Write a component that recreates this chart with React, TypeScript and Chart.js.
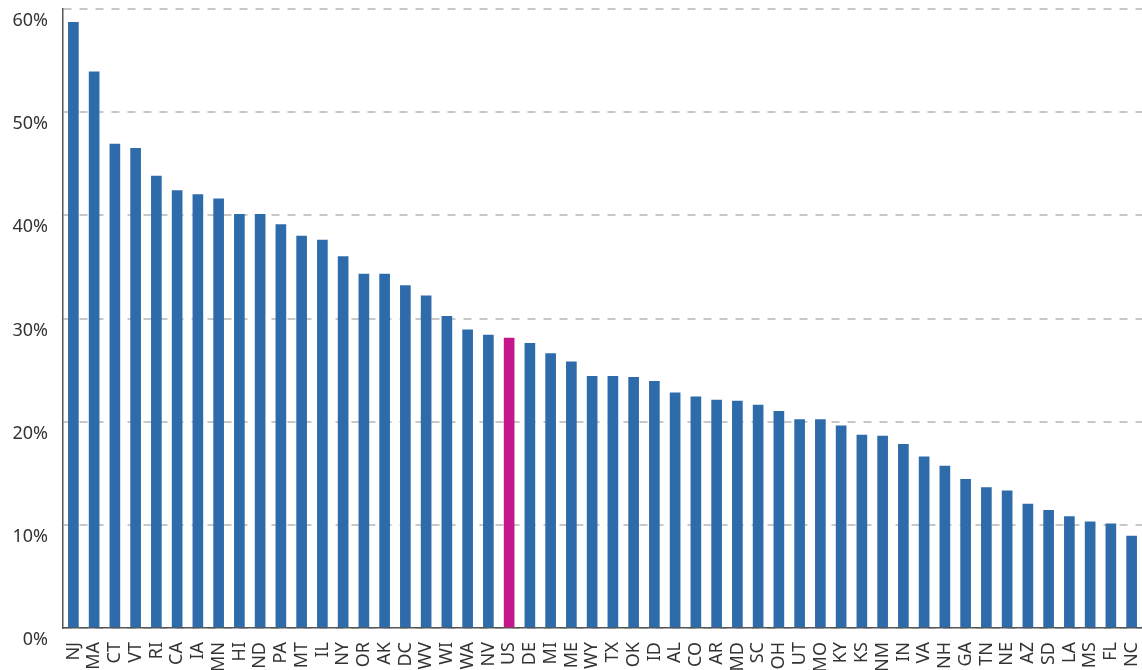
import React, { useEffect, useRef } from "react";
import { Chart, registerables } from "chart.js";

Chart.register(...registerables);

const states = [
  "NJ", "MA", "CT", "VT", "RI", "CA", "IA", "MN", "HI", "ND", "PA", "MT", "IL",
  "NY", "OR", "AK", "DC", "WV", "WI", "WA", "NV", "US", "DE", "MI", "ME", "WY",
  "TX", "OK", "ID", "AL", "CO", "AR", "MD", "SC", "OH", "UT", "MO", "KY", "KS",
  "NM", "IN", "VA", "NH", "GA", "TN", "NE", "AZ", "SD", "LA", "MS", "FL", "NC",
];

const shares = [
  58.7, 53.9, 46.9, 46.5, 43.8, 42.4, 42.0, 41.6, 40.1, 40.1, 39.1, 38.0, 37.6,
  36.0, 34.3, 34.3, 33.2, 32.2, 30.2, 28.9, 28.4, 28.1, 27.6, 26.6, 25.8, 24.4,
  24.4, 24.3, 23.9, 22.8, 22.4, 22.1, 22.0, 21.6, 21.0, 20.2, 20.2, 19.6, 18.7,
  18.6, 17.8, 16.6, 15.7, 14.4, 13.6, 13.3, 12.0, 11.4, 10.8, 10.3, 10.1, 8.9,
];

const highlight = "US";
const yTicks = [0, 10, 20, 30, 40, 50, 60];

const BLUE = "#2e6baa";
const MAGENTA = "#c5168c";
const FONT = "'Noto Sans', sans-serif";

export default function App() {
  const ref = useRef<HTMLCanvasElement | null>(null);

  useEffect(() => {
    if (!ref.current) return;
    const chart = new Chart(ref.current, {
      type: "bar",
      data: {
        labels: states,
        datasets: [
          {
            data: shares,
            backgroundColor: states.map((s) => (s === highlight ? MAGENTA : BLUE)),
            barThickness: 10,
          },
        ],
      },
      options: {
        animation: false,
        responsive: false,
        maintainAspectRatio: false,
        layout: { padding: { top: 9, right: 0, left: 0, bottom: 0 } },
        plugins: { legend: { display: false }, tooltip: { enabled: false } },
        scales: {
          x: {
            grid: { display: false },
            border: { display: true, color: "#555555", width: 1.5 },
            ticks: {
              autoSkip: false,
              maxRotation: 90,
              minRotation: 90,
              padding: 6,
              color: "#333333",
              font: { family: FONT, size: 18, lineHeight: 1 },
            },
            afterFit: (s: any) => {
              s.height = 42;
              s.paddingLeft = 0;
              s.paddingRight = 0;
              s.paddingTop = 0;
              s.paddingBottom = 0;
            },
          },
          y: {
            min: 0,
            max: 60,
            afterBuildTicks: (s: any) => {
              s.ticks = yTicks.map((v) => ({ value: v }));
            },
            grid: {
              color: "#c8c8c8",
              lineWidth: 2,
              drawTicks: false,
            },
            border: { display: true, color: "#555555", width: 1.5, dash: [8, 8] },
            ticks: {
              padding: 15,
              labelOffset: 12,
              color: "#333333",
              font: { family: FONT, size: 18, lineHeight: 1 },
              callback: (v: any) => `${v}%`,
            },
            afterFit: (s: any) => {
              s.width = 63;
              s.paddingTop = 0;
              s.paddingBottom = 0;
              s.paddingLeft = 0;
              s.paddingRight = 0;
            },
          },
        },
      } as any,
    });
    return () => chart.destroy();
  }, []);

  return (
    <div style={{ position: "absolute", left: 0, top: 0, width: 1142, height: 670, background: "#fff" }}>
      <canvas ref={ref} width={1142} height={670} style={{ width: 1142, height: 670, display: "block" }} />
    </div>
  );
}
